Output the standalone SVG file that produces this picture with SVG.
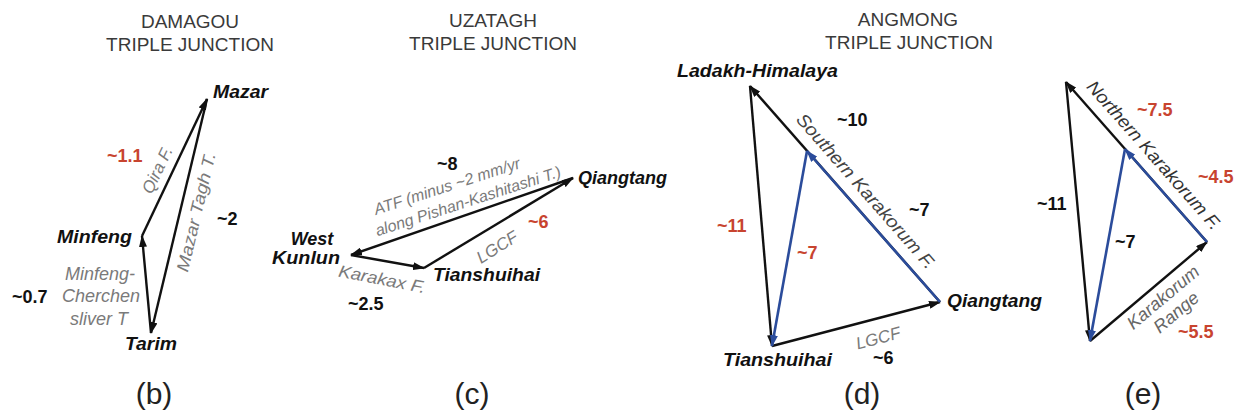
<svg xmlns="http://www.w3.org/2000/svg" width="1243" height="419" viewBox="0 0 1243 419">
<defs>
<marker id="ak" viewBox="0 0 12 8" refX="11" refY="4" markerWidth="12" markerHeight="8" markerUnits="userSpaceOnUse" orient="auto"><path d="M0,0 L12,4 L0,8 z" fill="#111"/></marker>
<marker id="ab" viewBox="0 0 12 8" refX="11" refY="4" markerWidth="12" markerHeight="8" markerUnits="userSpaceOnUse" orient="auto"><path d="M0,0 L12,4 L0,8 z" fill="#2b4c9b"/></marker>
<style>
.t{font-family:"Liberation Sans",Arial,sans-serif;font-size:19px;fill:#3a3a3a;text-anchor:middle}
.n{font-family:"Liberation Sans",Arial,sans-serif;font-size:18px;font-weight:bold;font-style:italic;fill:#111}
.v{font-family:"Liberation Sans",Arial,sans-serif;font-size:18px;font-weight:bold;fill:#111}
.r{fill:#c8442f}
.g{font-family:"Liberation Sans",Arial,sans-serif;font-size:17px;font-style:italic;fill:#7a7a7a;text-anchor:middle}
.d{fill:#444}
.p{font-family:"Liberation Sans",Arial,sans-serif;font-size:30px;fill:#222;text-anchor:middle}
.k{stroke:#111;stroke-width:2.4;fill:none;marker-end:url(#ak)}
.b{stroke:#2b4c9b;stroke-width:2.6;fill:none;marker-end:url(#ab)}
</style>
</defs>
<rect width="1243" height="419" fill="#fff"/>

<g id="titles">
<text class="t" x="190" y="28">DAMAGOU</text>
<text class="t" x="190" y="51">TRIPLE JUNCTION</text>
<text class="t" x="493" y="27">UZATAGH</text>
<text class="t" x="493" y="50">TRIPLE JUNCTION</text>
<text class="t" x="908" y="26">ANGMONG</text>
<text class="t" x="909" y="49">TRIPLE JUNCTION</text>
</g>

<g id="connectors">
<!-- (b) -->
<line class="k" x1="151" y1="333" x2="142" y2="236"/>
<line class="k" x1="142" y1="236" x2="207" y2="99"/>
<line class="k" x1="207" y1="99" x2="151" y2="333"/>
<!-- (c) -->
<line class="k" x1="573" y1="178" x2="351" y2="255"/>
<line class="k" x1="351" y1="255" x2="424" y2="268"/>
<line class="k" x1="424" y1="268" x2="573" y2="178"/>
<!-- (d) -->
<line class="k" x1="940" y1="302" x2="750" y2="86"/>
<line class="k" x1="750" y1="86" x2="772" y2="346"/>
<line class="k" x1="772" y1="346" x2="940" y2="302"/>
<line class="b" x1="940" y1="302" x2="807" y2="151"/>
<line class="b" x1="807" y1="151" x2="772" y2="346"/>
<!-- (e) -->
<line class="k" x1="1207" y1="242" x2="1066" y2="82"/>
<line class="k" x1="1066" y1="82" x2="1090" y2="341"/>
<line class="k" x1="1090" y1="341" x2="1207" y2="242"/>
<line class="b" x1="1207" y1="242" x2="1125" y2="149"/>
<line class="b" x1="1125" y1="149" x2="1090" y2="341"/>
</g>

<g id="edge-labels">
<!-- (b) -->
<text class="v r" x="107" y="162">~1.1</text>
<text class="v" x="217" y="225">~2</text>
<text class="v" x="12" y="303">~0.7</text>
<text class="g" transform="translate(157,170) rotate(-64.5)" dy="0.35em">Qira F.</text>
<text class="g" transform="translate(196,212) rotate(-76.7)" dy="0.35em" textLength="122" lengthAdjust="spacingAndGlyphs">Mazar Tagh T.</text>
<text class="g" x="100" y="280" style="font-size:18px">Minfeng-</text>
<text class="g" x="101" y="302" style="font-size:18px">Cherchen</text>
<text class="g" x="99" y="325" style="font-size:18px">sliver T</text>
<!-- (c) -->
<text class="v" x="437" y="170">~8</text>
<text class="v r" x="528" y="228">~6</text>
<text class="v" x="348" y="310">~2.5</text>
<text class="g" transform="translate(447,186) rotate(-18)" dy="0.35em" style="font-size:16px">ATF (minus ~2 mm/yr</text>
<text class="g" transform="translate(468,201) rotate(-18)" dy="0.35em" style="font-size:16px">along Pishan-Kashitashi T.)</text>
<text class="g" transform="translate(497,247) rotate(-32)" dy="0.35em">LGCF</text>
<text class="g" transform="translate(382,279) rotate(11)" dy="0.35em" textLength="88" lengthAdjust="spacingAndGlyphs">Karakax F.</text>
<!-- (d) -->
<text class="v" x="837" y="126">~10</text>
<text class="v" x="909" y="216">~7</text>
<text class="v r" x="717" y="232">~11</text>
<text class="v r" x="797" y="259">~7</text>
<text class="v" x="873" y="364">~6</text>
<text class="g d" transform="translate(866,191) rotate(48.7)" dy="0.35em" style="font-size:18px" textLength="200" lengthAdjust="spacingAndGlyphs">Southern Karakorum F.</text>
<text class="g" transform="translate(878,338) rotate(-15)" dy="0.35em">LGCF</text>
<!-- (e) -->
<text class="v r" x="1137" y="116">~7.5</text>
<text class="v r" x="1198" y="183">~4.5</text>
<text class="v" x="1037" y="210">~11</text>
<text class="v" x="1115" y="248">~7</text>
<text class="v r" x="1178" y="338">~5.5</text>
<text class="g d" transform="translate(1154,155) rotate(48.6)" dy="0.35em" style="font-size:18px;fill:#333" textLength="192" lengthAdjust="spacingAndGlyphs">Northern Karakorum F.</text>
<text class="g" transform="translate(1163,297) rotate(-40)" dy="0.35em" style="font-size:18px;fill:#666">Karakorum</text>
<text class="g" transform="translate(1176,312) rotate(-40)" dy="0.35em" style="font-size:18px;fill:#666">Range</text>
</g>

<g id="node-mazar"><text class="n" x="213" y="98" textLength="55" lengthAdjust="spacingAndGlyphs">Mazar</text></g>
<g id="node-minfeng"><text class="n" x="57" y="243" textLength="75" lengthAdjust="spacingAndGlyphs">Minfeng</text></g>
<g id="node-tarim"><text class="n" x="125" y="350" textLength="52" lengthAdjust="spacingAndGlyphs">Tarim</text></g>
<g id="node-west-kunlun"><text class="n" x="312" y="245" text-anchor="middle">West</text><text class="n" x="306" y="264" text-anchor="middle" textLength="68" lengthAdjust="spacingAndGlyphs">Kunlun</text></g>
<g id="node-tianshuihai-c"><text class="n" x="433" y="281" textLength="107" lengthAdjust="spacingAndGlyphs">Tianshuihai</text></g>
<g id="node-qiangtang-c"><text class="n" x="578" y="184">Qiangtang</text></g>
<g id="node-ladakh"><text class="n" x="677" y="77" textLength="161" lengthAdjust="spacingAndGlyphs">Ladakh-Himalaya</text></g>
<g id="node-qiangtang-d"><text class="n" x="947" y="307" textLength="95" lengthAdjust="spacingAndGlyphs">Qiangtang</text></g>
<g id="node-tianshuihai-d"><text class="n" x="723" y="366" textLength="109" lengthAdjust="spacingAndGlyphs">Tianshuihai</text></g>

<g id="panel-labels">
<text class="p" x="154" y="404">(b)</text>
<text class="p" x="472" y="404">(c)</text>
<text class="p" x="862" y="404">(d)</text>
<text class="p" x="1143" y="404">(e)</text>
</g>
</svg>
